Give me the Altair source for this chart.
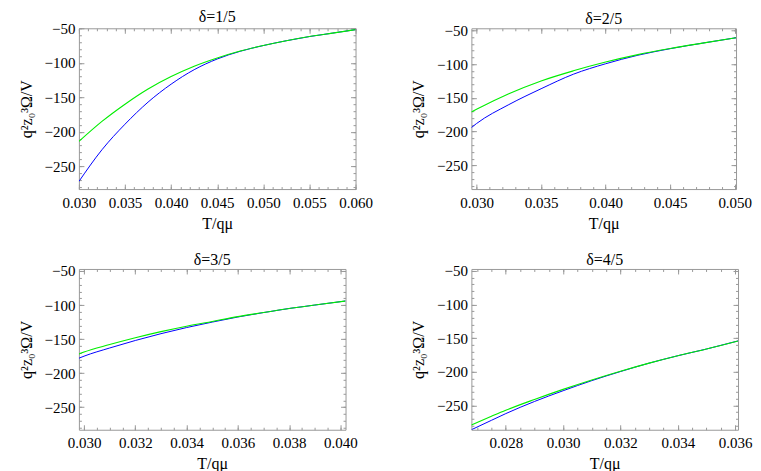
import altair as alt
import pandas as pd

FONT = "'Liberation Serif', 'Times New Roman', Times, 'DejaVu Serif', serif"
BLUE = "#0000ff"
GREEN = "#00ee00"
GRAY = "#999999"

# ---- data ----
p1_T = [0.030, 0.0325, 0.035, 0.0375, 0.040, 0.0425, 0.045, 0.0475, 0.050, 0.0525, 0.055, 0.0575, 0.060]
p1_green = [-214, -185, -160, -138, -120, -105, -93, -83, -75, -68, -62, -57, -52]
p1_blue = [-272, -226, -189, -157, -131, -110, -94.5, -83.3, -75, -68, -62, -57, -52]

p2_T = [0.0296, 0.030, 0.0325, 0.035, 0.0375, 0.040, 0.0425, 0.045, 0.0475, 0.0501]
p2_green = [-171, -167, -144, -125, -110, -97, -86, -77, -69, -61]
p2_blue = [-194, -188, -160, -136.5, -115, -99.5, -86.9, -77.2, -69, -61]

p3_T = [0.0298, 0.030, 0.031, 0.032, 0.033, 0.034, 0.035, 0.036, 0.037, 0.038, 0.039, 0.0402]
p3_green = [-172, -169, -158, -148, -139, -131, -124, -117, -111, -105, -100, -94]
p3_blue = [-178, -175, -163, -152, -142, -133, -125, -117.5, -111, -105, -100, -94]

p4_T = [0.0268, 0.0275, 0.028, 0.029, 0.030, 0.031, 0.032, 0.033, 0.034, 0.035, 0.0361]
p4_green = [-279, -266, -257, -241, -226, -212, -199, -187, -176, -166, -154]
p4_blue = [-286, -272, -262, -244, -228, -213, -199.5, -187, -176, -166, -154]

titles = ["δ=1/5", "δ=2/5", "δ=3/5", "δ=4/5"]
x_domains = [[0.030, 0.060], [0.0296, 0.0501], [0.0298, 0.0402], [0.0268, 0.0361]]
y_domains = [[-283, -50], [-285, -47], [-283, -47], [-286, -47]]
x_major_steps = [0.005, 0.005, 0.002, 0.002]
x_minor_steps = [0.001, 0.001, 0.0005, 0.0005]
y_major_labels = [-250, -200, -150, -100, -50]
widths = [277, 265, 267, 267]
HEIGHT = 161

Y_TITLE = "q²z₀³Ω/V"
X_TITLE = "T/qμ"


def ticks_in(lo, hi, step):
    n0 = int(round(lo / step)) - 1
    n1 = int(round(hi / step)) + 1
    out = []
    for n in range(n0, n1 + 1):
        v = round(n * step, 6)
        if lo - 1e-9 <= v <= hi + 1e-9:
            out.append(v)
    return out


def panel(T, green, blue, title, xdom, ydom, xmaj, xmin, w):
    dfb = pd.DataFrame({"T": T, "V": blue})
    dfg = pd.DataFrame({"T": T, "V": green})
    xs = alt.Scale(domain=xdom, nice=False, zero=False)
    ys = alt.Scale(domain=ydom, nice=False, zero=False)
    xmajor = ticks_in(xdom[0], xdom[1], xmaj)
    xminor = ticks_in(xdom[0], xdom[1], xmin)
    ymajor = ticks_in(ydom[0], ydom[1], 50)
    yminor = ticks_in(ydom[0], ydom[1], 10)

    blue_line = alt.Chart(dfb).mark_line(
        color=BLUE, strokeWidth=1, clip=True, interpolate="monotone"
    ).encode(
        x=alt.X("T:Q", scale=xs, axis=alt.Axis(
            values=xmajor, format=".3f", ticks=False, domain=False, grid=False,
            labelFlush=False, labelOverlap=False, labelPadding=6,
            labelFont=FONT, labelFontSize=15,
            title=X_TITLE, titlePadding=5)),
        y=alt.Y("V:Q", scale=ys, axis=alt.Axis(
            values=[v for v in y_major_labels if ydom[0] <= v <= ydom[1]],
            format="d", ticks=False, domain=False, grid=False,
            labelFlush=False, labelOverlap=False, labelPadding=4,
            labelFont=FONT, labelFontSize=15,
            title=Y_TITLE, titlePadding=10)),
    )
    green_line = alt.Chart(dfg).mark_line(
        color=GREEN, strokeWidth=1.1, clip=True, interpolate="monotone"
    ).encode(
        x=alt.X("T:Q", scale=xs, axis=None),
        y=alt.Y("V:Q", scale=ys, axis=None),
    )

    def tick_layer(xo, yo, xv, yv, size):
        return alt.Chart(dfg).mark_line(opacity=0).encode(
            x=alt.X("T:Q", scale=xs, axis=alt.Axis(
                orient=xo, values=xv, labels=False, domain=False, grid=False,
                ticks=True, tickSize=size, offset=-size, tickColor=GRAY,
                tickWidth=1, title=None)),
            y=alt.Y("V:Q", scale=ys, axis=alt.Axis(
                orient=yo, values=yv, labels=False, domain=False, grid=False,
                ticks=True, tickSize=size, offset=-size, tickColor=GRAY,
                tickWidth=1, title=None)),
        )

    layers = [
        blue_line,
        green_line,
        tick_layer("bottom", "left", xmajor, ymajor, 5),
        tick_layer("top", "right", xmajor, ymajor, 5),
        tick_layer("bottom", "left", xminor, yminor, 2.5),
        tick_layer("top", "right", xminor, yminor, 2.5),
    ]
    return alt.layer(*layers).resolve_axis(x="independent", y="independent").properties(
        width=w, height=HEIGHT,
        title=alt.Title(title, font=FONT, fontSize=16, fontWeight="normal",
                        color="#000000", offset=-4, frame="group"),
    )


data = [(p1_T, p1_green, p1_blue), (p2_T, p2_green, p2_blue),
        (p3_T, p3_green, p3_blue), (p4_T, p4_green, p4_blue)]

panels = []
for i, (T, g, b) in enumerate(data):
    panels.append(panel(T, g, b, titles[i], x_domains[i], y_domains[i],
                        x_major_steps[i], x_minor_steps[i], widths[i]))

chart = alt.concat(
    *panels, columns=2, spacing={"row": 80, "column": 116}, bounds="flush", align="each"
).properties(
    padding={"left": 9, "top": 0, "right": 0, "bottom": 0}
).configure_axis(
    labelFont=FONT, titleFont=FONT, labelFontSize=15, titleFontSize=16,
    labelColor="#000000", titleColor="#000000", titleFontWeight="normal",
).configure_view(
    stroke=GRAY, strokeWidth=1
)

chart.save("out.html", embed_options={"renderer": "svg", "actions": False})
